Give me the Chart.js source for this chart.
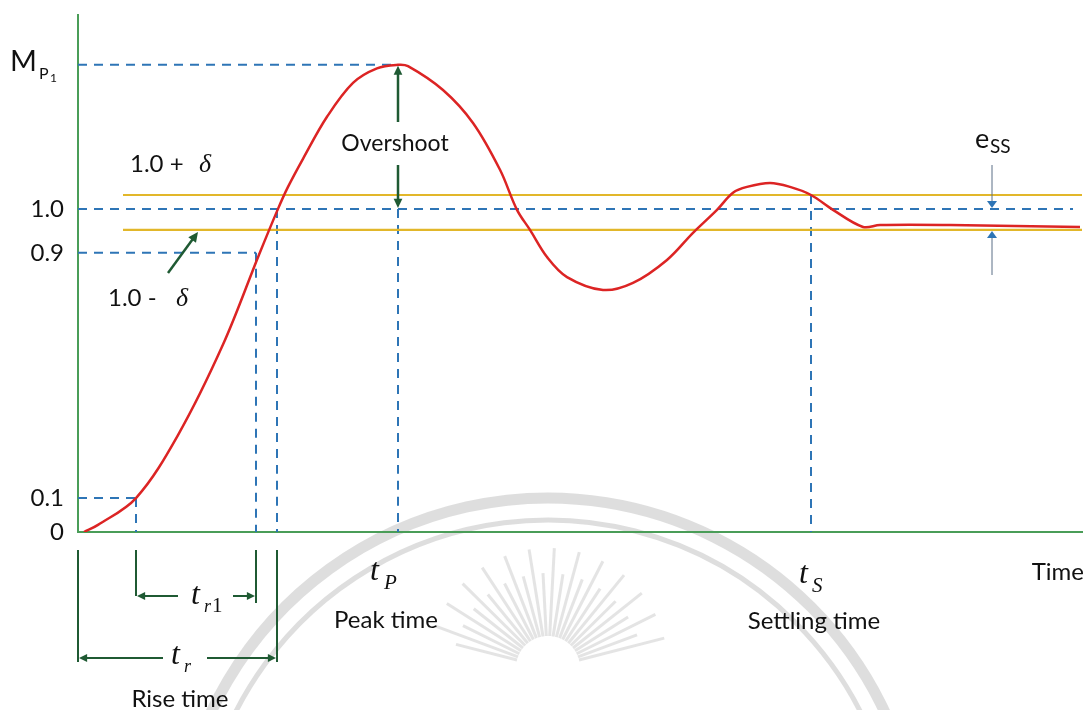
<!DOCTYPE html>
<html>
<head>
<meta charset="utf-8">
<script src="https://cdn.jsdelivr.net/npm/chart.js@4"></script>
<style>
  html, body { margin: 0; padding: 0; background: #fff; }
  #wrap { width: 1087px; height: 710px; position: relative; }
</style>
</head>
<body>
<div id="wrap"><canvas id="stepChart"></canvas></div>
<script>
// Step response curve (time in arbitrary units, output normalised to 1.0)
const timeX = [0.06, 0.20, 0.58, 1.00, 1.45, 1.81, 2.00, 2.10, 2.25, 2.49, 2.75, 2.99, 3.20, 3.30,
  3.65, 3.95, 4.22, 4.39, 4.52, 4.69, 4.89, 5.25, 5.55, 5.89, 6.15, 6.39, 6.55, 6.69, 6.92, 7.12, 7.33,
  7.55, 7.85, 8.02, 8.72, 10.02];
const response = [0, 0.022, 0.105, 0.300, 0.580, 0.858, 1.0, 1.068, 1.155, 1.285, 1.390, 1.435, 1.446, 1.442,
  1.368, 1.266, 1.121, 0.997, 0.935, 0.851, 0.789, 0.749, 0.771, 0.842, 0.926, 0.997, 1.050, 1.068, 1.080, 1.068, 1.043,
  0.997, 0.944, 0.950, 0.950, 0.944];

// y-axis tick positions (schematic) and their labels
const tickValues = [0, 0.105, 0.864, 1.0];
const tickLabels = ['0', '0.1', '0.9', '1.0'];

// key levels and instants
const peakValue = 1.446;
const upperBand = 1.043;
const lowerBand = 0.935;
const t10 = 0.58, t90 = 1.78, tRise = 1.99, tPeak = 3.20, tSettle = 7.33;
const tEnd = 10.04;

const blue = '#2e75b6';
const yellow = '#e2b72a';
const darkGreen = '#1f5a33';

function seg(x1, y1, x2, y2) { return [{ x: x1, y: y1 }, { x: x2, y: y2 }]; }

const dashed = (data) => ({
  data: data, borderColor: blue, borderWidth: 2, borderDash: [9, 7],
  pointRadius: 0, fill: false, tension: 0
});
const band = (data) => ({
  data: data, borderColor: yellow, borderWidth: 2.2, pointRadius: 0, fill: false, tension: 0
});

function arrow(ctx, x1, y1, x2, y2, color, w, head) {
  const a = Math.atan2(y2 - y1, x2 - x1);
  ctx.save();
  ctx.strokeStyle = color; ctx.fillStyle = color; ctx.lineWidth = w;
  ctx.beginPath(); ctx.moveTo(x1, y1); ctx.lineTo(x2 - Math.cos(a) * head * 0.6, y2 - Math.sin(a) * head * 0.6); ctx.stroke();
  ctx.beginPath();
  ctx.moveTo(x2, y2);
  ctx.lineTo(x2 - head * Math.cos(a - 0.45), y2 - head * Math.sin(a - 0.45));
  ctx.lineTo(x2 - head * Math.cos(a + 0.45), y2 - head * Math.sin(a + 0.45));
  ctx.closePath(); ctx.fill();
  ctx.restore();
}

function line(ctx, x1, y1, x2, y2) {
  ctx.beginPath(); ctx.moveTo(x1, y1); ctx.lineTo(x2, y2); ctx.stroke();
}

const sans = 'Lato, "Open Sans", sans-serif';
const serifIt = 'italic 32px "Liberation Serif", serif';

// faint watermark rings behind the plot
const watermark = {
  id: 'watermark',
  beforeDraw(chart) {
    const ctx = chart.ctx;
    ctx.save();
    ctx.strokeStyle = 'rgba(190,190,190,0.5)';
    ctx.lineWidth = 11;
    ctx.beginPath(); ctx.arc(548, 870, 372, Math.PI * 1.05, Math.PI * 1.95); ctx.stroke();
    ctx.lineWidth = 5;
    ctx.beginPath(); ctx.arc(548, 870, 350, Math.PI * 1.08, Math.PI * 1.92); ctx.stroke();
    ctx.lineWidth = 3;
    ctx.strokeStyle = 'rgba(195,195,195,0.45)';
    for (let i = 0; i < 26; i++) {
      const a = Math.PI * (1.08 + i * 0.84 / 25);
      const r1 = 32, r2 = 95 + (i % 2) * 25;
      line(ctx, 548 + r1 * Math.cos(a), 668 + r1 * Math.sin(a), 548 + r2 * Math.cos(a), 668 + r2 * Math.sin(a));
    }
    ctx.restore();
  }
};

const notes = {
  id: 'notes',
  afterDatasetsDraw(chart) {
    const ctx = chart.ctx;
    const xs = chart.scales.x, ys = chart.scales.y;
    const px = v => xs.getPixelForValue(v);
    const py = v => ys.getPixelForValue(v);
    ctx.save();

    // M_P1 label
    ctx.fillStyle = '#111';
    ctx.textBaseline = 'alphabetic';
    ctx.textAlign = 'left';
    const yp = py(peakValue);
    ctx.font = '29px ' + sans;
    ctx.fillText('M', 10, yp + 6);
    ctx.font = '16px ' + sans;
    ctx.fillText('P', 39, yp + 14);
    ctx.font = '12px ' + sans;
    ctx.fillText('1', 50, yp + 17);

    // band labels
    ctx.font = '24px ' + sans;
    ctx.fillText('1.0 +', 130, 172);
    ctx.fillText('1.0 -', 108, 306);
    ctx.font = 'italic 26px "Liberation Serif", serif';
    ctx.fillText('δ', 199, 172);
    ctx.fillText('δ', 176, 306);
    arrow(ctx, 168, 273, 198, 232, darkGreen, 2.5, 11);

    // overshoot
    const xp = px(tPeak);
    arrow(ctx, xp, 122, xp, yp + 1, darkGreen, 2.5, 10);
    arrow(ctx, xp, 165, xp, py(1.0) - 1, darkGreen, 2.5, 10);
    ctx.textAlign = 'center';
    ctx.font = '23px ' + sans;
    ctx.fillStyle = '#111';
    ctx.fillText('Overshoot', xp - 3, 151);

    // steady-state error
    ctx.textAlign = 'left';
    ctx.font = '27px ' + sans;
    ctx.fillText('e', 975, 148);
    ctx.font = '19px ' + sans;
    ctx.fillText('SS', 990, 153);
    ctx.strokeStyle = '#5b6f86'; ctx.lineWidth = 1;
    line(ctx, 992, 165, 992, py(1.0) - 6);
    line(ctx, 992, py(lowerBand) + 6, 992, 275);
    ctx.fillStyle = blue;
    ctx.beginPath(); ctx.moveTo(992, py(1.0) - 1); ctx.lineTo(987, py(1.0) - 8); ctx.lineTo(997, py(1.0) - 8); ctx.fill();
    ctx.beginPath(); ctx.moveTo(992, py(lowerBand) + 1); ctx.lineTo(987, py(lowerBand) + 8); ctx.lineTo(997, py(lowerBand) + 8); ctx.fill();

    // rise time brackets
    const x0 = px(0), x10 = px(t10), x90 = px(t90), xr = px(tRise);
    ctx.strokeStyle = darkGreen; ctx.lineWidth = 2;
    line(ctx, x0, 550, x0, 662);
    line(ctx, x10, 550, x10, 596);
    line(ctx, x90, 550, x90, 603);
    line(ctx, xr, 550, xr, 662);
    arrow(ctx, 178, 596, x10 + 1, 596, darkGreen, 2, 9);
    arrow(ctx, 233, 596, x90 - 1, 596, darkGreen, 2, 9);
    arrow(ctx, 163, 658, x0 + 1, 658, darkGreen, 2, 9);
    arrow(ctx, 207, 658, xr - 1, 658, darkGreen, 2, 9);

    ctx.fillStyle = '#111';
    ctx.font = serifIt;
    ctx.fillText('t', 191, 604);
    ctx.font = 'italic 18px "Liberation Serif", serif';
    ctx.fillText('r', 204, 612);
    ctx.font = '21px "Liberation Serif", serif';
    ctx.fillText('1', 212, 612);
    ctx.font = serifIt;
    ctx.fillText('t', 171, 664);
    ctx.font = 'italic 18px "Liberation Serif", serif';
    ctx.fillText('r', 184, 672);

    // peak / settling time labels
    const xs2 = px(tSettle);
    ctx.font = serifIt;
    ctx.fillText('t', xp - 28, 580);
    ctx.fillText('t', xs2 - 12, 583);
    ctx.font = 'italic 21px "Liberation Serif", serif';
    ctx.fillText('P', xp - 14, 589);
    ctx.fillText('S', xs2 + 1, 592);

    ctx.textAlign = 'center';
    ctx.font = '24px ' + sans;
    ctx.fillText('Peak time', xp - 12, 628);
    ctx.fillText('Settling time', xs2 + 3, 629);
    ctx.fillText('Rise time', 180, 707);
    ctx.textAlign = 'right';
    ctx.fillText('Time', 1084, 580);
    ctx.restore();
  }
};

const ctx = document.getElementById('stepChart').getContext('2d');
const stepChart = new Chart(ctx, {
  type: 'line',
  data: {
    datasets: [
      {
        data: timeX.map((t, i) => ({ x: t, y: response[i] })),
        borderColor: '#dc2424', borderWidth: 2.5, pointRadius: 0,
        tension: 0.35, fill: false
      },
      band(seg(0.45, upperBand, tEnd, upperBand)),
      band(seg(0.45, lowerBand, tEnd, lowerBand)),
      dashed(seg(0, peakValue, tPeak, peakValue)),
      dashed(seg(0, 1.0, 9.95, 1.0)),
      dashed(seg(0, 0.864, t90, 0.864)),
      dashed(seg(0, 0.105, t10, 0.105)),
      dashed(seg(t10, 0.105, t10, 0)),
      dashed(seg(t90, 0.864, t90, 0)),
      dashed(seg(tRise, 1.0, tRise, 0)),
      dashed(seg(tPeak, 1.0, tPeak, 0)),
      dashed(seg(tSettle, upperBand, tSettle, 0))
    ]
  },
  options: {
    responsive: true,
    maintainAspectRatio: false,
    animation: false,
    layout: { padding: { top: 15, right: 5, left: 0, bottom: 0 } },
    plugins: { legend: { display: false }, tooltip: { enabled: false } },
    scales: {
      x: {
        type: 'linear', min: 0, max: tEnd,
        grid: { display: false, drawTicks: false },
        border: { color: '#4a9d58', width: 2 },
        ticks: { display: false },
        afterFit(scale) { scale.height = 178; scale.paddingLeft = 0; scale.paddingRight = 0; }
      },
      y: {
        min: 0, max: 1.6,
        grid: { display: false, drawTicks: false },
        border: { color: '#4a9d58', width: 2 },
        afterBuildTicks(scale) { scale.ticks = tickValues.map(v => ({ value: v })); },
        ticks: {
          padding: 14,
          color: '#111',
          font: { family: 'Lato, "Open Sans", sans-serif', size: 24 },
          callback: function(value, index) { return tickLabels[index]; }
        },
        afterFit(scale) { scale.width = 78; scale.paddingTop = 0; scale.paddingBottom = 0; }
      }
    }
  },
  plugins: [watermark, notes]
});
</script>
</body>
</html>
